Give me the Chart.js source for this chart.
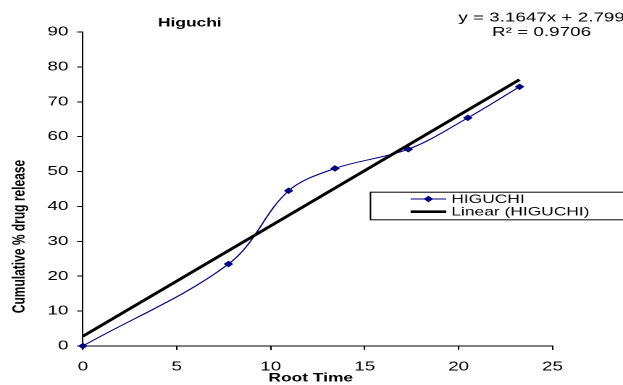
<!DOCTYPE html>
<html>
<head>
<meta charset="utf-8">
<title>Higuchi</title>
<script src="https://cdn.jsdelivr.net/npm/chart.js@4/dist/chart.umd.min.js"></script>
<style>
  html, body { margin: 0; padding: 0; background: #fff; overflow: hidden; }
  #wrap { width: 623px; height: 385px; overflow: hidden; }
  /* the plot is laid out on a narrow canvas and widened horizontally */
  #chart { display: block; transform: scaleX(1.4488); transform-origin: 0 0; }
</style>
</head>
<body>
<div id="wrap"><canvas id="chart" width="430" height="385"></canvas></div>
<script>
// Higuchi model: cumulative release against square root of time
const rootTime = [0, 7.75, 10.95, 13.42, 17.32, 20.49, 23.24];
const releasePct = [0, 23.5, 44.5, 50.9, 56.4, 65.4, 74.3];

// least-squares trendline reported on the chart
const trendSlope = 3.1647;
const trendIntercept = 2.799;
const trendR2 = 0.9706;

const xTicks = [0, 5, 10, 15, 20, 25];
const yTicks = [0, 10, 20, 30, 40, 50, 60, 70, 80, 90];

const chartTitle = 'Higuchi';
const xTitle = 'Root Time';
const yTitle = 'Cumulative % drug release';
const seriesName = 'HIGUCHI';
const trendName = 'Linear (HIGUCHI)';

const FONT = '"Liberation Sans", Arial, sans-serif';

const seriesPoints = rootTime.map((x, i) => ({ x, y: releasePct[i] }));
const trendX = [rootTime[0], rootTime[rootTime.length - 1]];
const trendPoints = trendX.map(x => ({ x, y: trendSlope * x + trendIntercept }));

const annotate = {
  id: 'annotate',
  afterDraw(chart) {
    const { ctx } = chart;
    ctx.save();
    ctx.fillStyle = '#000';
    ctx.textAlign = 'center';
    ctx.textBaseline = 'middle';

    // chart title
    ctx.font = 'bold 12px ' + FONT;
    ctx.fillText(chartTitle, 131, 23.3);

    // trendline equation
    ctx.font = '13px ' + FONT;
    const sign = trendIntercept >= 0 ? '+' : '-';
    ctx.fillText('y = ' + trendSlope + 'x ' + sign + ' ' + Math.abs(trendIntercept), 373.8, 17.8);
    ctx.fillText('R\u00B2 = ' + trendR2, 373.8, 32.5);

    // axis titles
    ctx.font = 'bold 12px ' + FONT;
    ctx.fillText(xTitle, 214.5, 378.3);
    ctx.save();
    ctx.translate(13.5, 236.5);
    ctx.rotate(-Math.PI / 2);
    ctx.fillText(yTitle, 0, 0);
    ctx.restore();

    // legend
    const bx = 255.2, by = 191.7, bh = 27.6;
    ctx.strokeStyle = '#000';
    ctx.lineWidth = 1;
    ctx.strokeRect(bx + 0.5, by + 0.5, chart.width - bx + 4, bh);
    const ds = chart.data.datasets;
    const rows = [199, 211.7];
    const lx0 = 283.4, lx1 = 308;
    ctx.font = '12px ' + FONT;
    ctx.textAlign = 'left';
    ds.forEach((d, i) => {
      const y = rows[i];
      ctx.strokeStyle = d.borderColor;
      ctx.lineWidth = d.borderWidth;
      ctx.beginPath();
      ctx.moveTo(lx0, y);
      ctx.lineTo(lx1, y);
      ctx.stroke();
      if (d.pointRadius > 0) {
        const r = d.pointRadius, cx = (lx0 + lx1) / 2;
        ctx.fillStyle = d.pointBackgroundColor;
        ctx.beginPath();
        ctx.moveTo(cx - r, y); ctx.lineTo(cx, y - r);
        ctx.lineTo(cx + r, y); ctx.lineTo(cx, y + r);
        ctx.closePath();
        ctx.fill();
        ctx.lineWidth = 1;
        ctx.strokeStyle = d.pointBorderColor;
        ctx.stroke();
      }
      ctx.fillStyle = '#000';
      ctx.fillText(d.label, 311.5, y + 0.5);
    });
    ctx.restore();
  }
};

new Chart(document.getElementById('chart'), {
  type: 'scatter',
  data: {
    datasets: [
      {
        label: seriesName,
        data: seriesPoints,
        showLine: true,
        borderColor: '#000080',
        backgroundColor: '#000080',
        borderWidth: 1,
        tension: 0.35,
        pointStyle: 'rectRot',
        pointRadius: 2.6,
        pointBackgroundColor: '#000080',
        pointBorderColor: '#000080',
        pointBorderWidth: 1,
        clip: false,
        order: 1
      },
      {
        label: trendName,
        data: trendPoints,
        showLine: true,
        borderColor: '#000000',
        backgroundColor: '#000000',
        borderWidth: 2.6,
        pointRadius: 0,
        tension: 0,
        clip: false,
        order: 0
      }
    ]
  },
  options: {
    responsive: false,
    animation: false,
    devicePixelRatio: 2,
    layout: { padding: { top: 32, right: 48.6, left: 0, bottom: 0 } },
    plugins: {
      legend: { display: false },
      title: { display: false },
      tooltip: { enabled: false }
    },
    scales: {
      x: {
        type: 'linear',
        min: xTicks[0],
        max: xTicks[xTicks.length - 1],
        afterBuildTicks: s => { s.ticks = xTicks.map(v => ({ value: v })); },
        afterFit: s => { s.height = 39; },
        grid: { display: true, drawOnChartArea: false, drawTicks: true, tickLength: 4, color: '#000', lineWidth: 1 },
        border: { display: true, color: '#000', width: 1 },
        ticks: { color: '#000', padding: 9, font: { family: FONT, size: 13 }, maxRotation: 0 }
      },
      y: {
        type: 'linear',
        min: yTicks[0],
        max: yTicks[yTicks.length - 1],
        afterBuildTicks: s => { s.ticks = yTicks.map(v => ({ value: v })); },
        afterFit: s => { s.width = 57.2; },
        grid: { display: true, drawOnChartArea: false, drawTicks: true, tickLength: 4, color: '#000', lineWidth: 1 },
        border: { display: true, color: '#000', width: 1 },
        ticks: { color: '#000', padding: 6, font: { family: FONT, size: 13 } }
      }
    }
  },
  plugins: [annotate]
});
</script>
</body>
</html>
